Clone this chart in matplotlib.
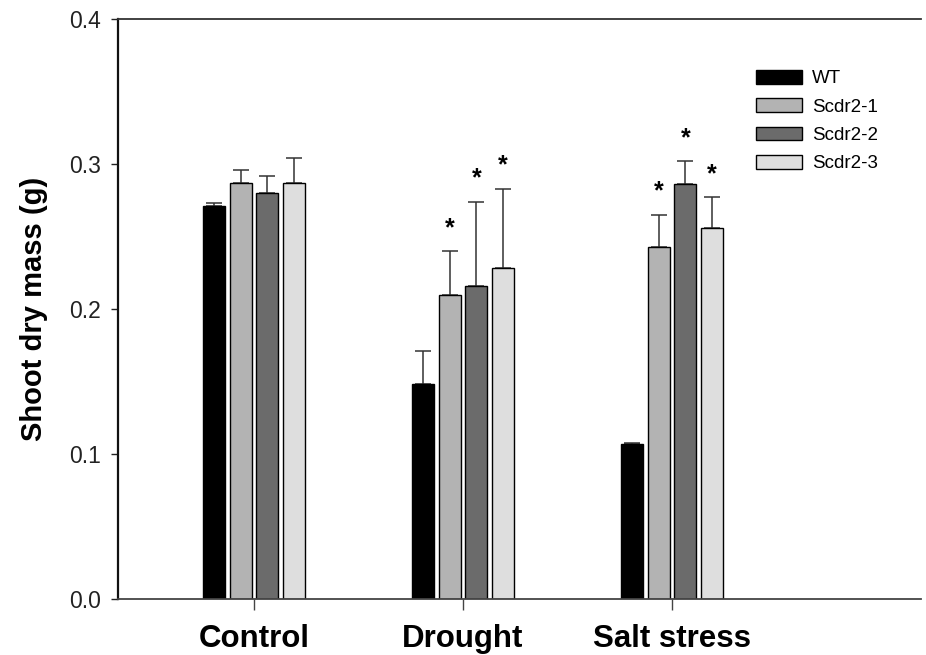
import numpy as np
import matplotlib
matplotlib.use('Agg')
import matplotlib.pyplot as plt

plt.rcParams['font.family'] = ['Liberation Sans', 'DejaVu Sans']

# Data
groups = ['Control', 'Drought', 'Salt stress']
lines = ['WT', 'Scdr2-1', 'Scdr2-2', 'Scdr2-3']
means = {
    'WT':      [0.271, 0.148, 0.107],
    'Scdr2-1': [0.287, 0.210, 0.243],
    'Scdr2-2': [0.280, 0.216, 0.286],
    'Scdr2-3': [0.287, 0.228, 0.256],
}
errors = {
    'WT':      [0.002, 0.023, 0.0005],
    'Scdr2-1': [0.009, 0.030, 0.022],
    'Scdr2-2': [0.012, 0.058, 0.016],
    'Scdr2-3': [0.017, 0.055, 0.021],
}
# significance stars (per line, per group)
stars = {
    'WT':      [False, False, False],
    'Scdr2-1': [False, True, True],
    'Scdr2-2': [False, True, True],
    'Scdr2-3': [False, True, True],
}
colors = ['#000000', '#b3b3b3', '#6b6b6b', '#dedede']

fig = plt.figure(figsize=(9.26, 6.55), dpi=100)
ax = fig.add_axes([118 / 926, 56 / 655, 803 / 926, 580 / 655])

x = np.arange(len(groups))
pitch = 0.127
width = 0.105
for i, name in enumerate(lines):
    pos = x + (i - 1.5) * pitch
    m = np.array(means[name])
    e = np.array(errors[name])
    ax.bar(pos, m, width, color=colors[i], edgecolor='black', linewidth=1.0,
           label=name, zorder=2)
    ax.errorbar(pos, m, yerr=[np.zeros_like(e), e], fmt='none',
                ecolor='#333333', elinewidth=1.1, capsize=5.5, capthick=1.1,
                zorder=1)
    for j in range(len(groups)):
        if stars[name][j]:
            ax.text(pos[j], m[j] + e[j] + 0.011, '*', ha='center',
                    va='baseline', fontsize=18, fontweight='bold')

ax.set_xlim(-0.65, 3.19)
ax.set_ylim(0, 0.4)
ax.set_yticks([0.0, 0.1, 0.2, 0.3, 0.4])
ax.set_yticklabels(['0.0', '0.1', '0.2', '0.3', '0.4'])
ax.set_xticks(x)
ax.set_xticklabels(groups, fontsize=22.5, fontweight='bold')
ax.tick_params(axis='y', labelsize=16.5, length=5, width=1.0, pad=7,
               colors='#222222')
ax.tick_params(axis='x', length=8, width=1.0, pad=10, color='#444444')

ax.set_ylabel('Shoot dry mass (g)', fontsize=21, fontweight='bold')
ax.yaxis.set_label_coords(-0.087, 0.5)

ax.spines['right'].set_visible(False)
ax.spines['left'].set_linewidth(1.6)
ax.spines['left'].set_color('#111111')
ax.spines['top'].set_linewidth(1.3)
ax.spines['top'].set_color('#333333')
ax.spines['bottom'].set_linewidth(1.3)
ax.spines['bottom'].set_color('#444444')

ax.legend(loc='upper left', bbox_to_anchor=(0.7945, 0.912), frameon=False,
          fontsize=13.5, handlelength=2.45, handleheight=0.75,
          handletextpad=0.55, labelspacing=0.58, borderpad=0,
          borderaxespad=0)

plt.savefig('out.png', dpi=100)
